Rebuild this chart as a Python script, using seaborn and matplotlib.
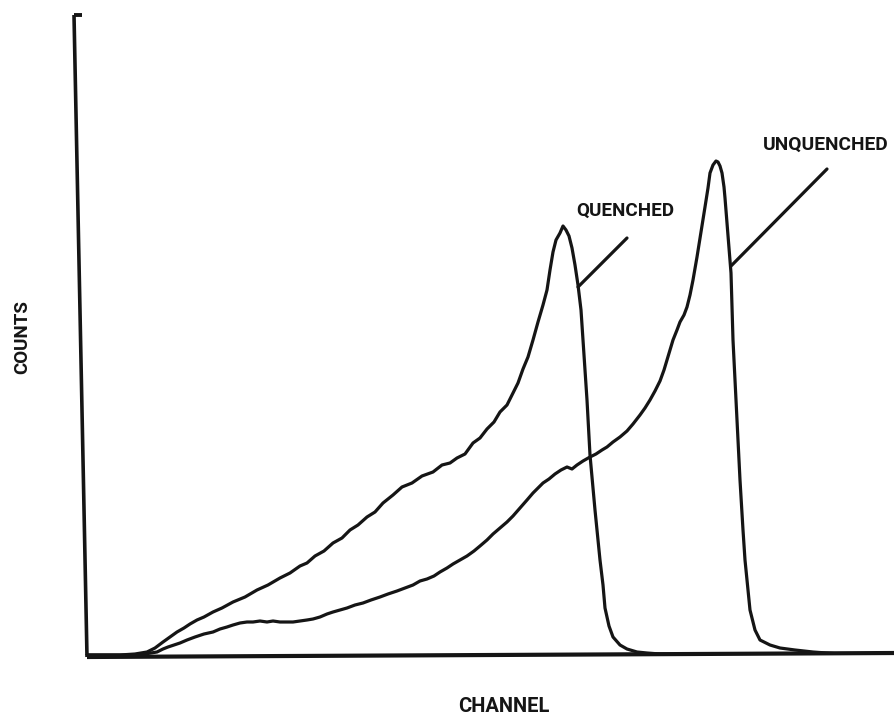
import matplotlib
matplotlib.use("Agg")
import matplotlib.pyplot as plt
from matplotlib.lines import Line2D
import pandas as pd
import seaborn as sns

sns.set_style("white")
plt.rcParams["font.family"] = ["Roboto", "DejaVu Sans"]

# Pulse-height spectra: channel number vs. counts
quenched_channel = [6, 39, 54, 66, 74, 82, 89, 96, 103, 109, 116, 123, 132, 141, 152,
                    164, 176, 187, 199, 209, 219, 226, 234, 243, 252, 261, 269, 277,
                    286, 294, 302, 312, 321, 331, 341, 352, 361, 369, 376, 384, 392,
                    399, 406, 413, 419, 426, 432, 437, 442, 447, 452, 457, 462, 466,
                    469, 472, 475, 479, 482, 485, 488, 491, 494, 497, 500, 502, 504,
                    506, 509, 514, 519, 522, 524, 528, 532, 539, 546, 556, 566, 579,
                    619, 814]
quenched_counts = [0, 0, 10, 30, 70, 130, 180, 230, 270, 310, 350, 380, 430, 470, 530,
                   580, 650, 700, 770, 820, 890, 920, 990, 1040, 1120, 1170, 1250, 1300,
                   1380, 1430, 1520, 1600, 1680, 1720, 1790, 1830, 1900, 1920, 1970,
                   2010, 2120, 2170, 2260, 2330, 2430, 2500, 2620, 2720, 2860, 2980,
                   3150, 3330, 3500, 3650, 3850, 4030, 4150, 4220, 4290, 4250, 4190,
                   4070, 3900, 3700, 3450, 3150, 2850, 2550, 2000, 1450, 950, 700, 470,
                   290, 180, 100, 60, 30, 20, 10, 0, 0]

unquenched_channel = [6, 49, 64, 76, 82, 87, 93, 99, 106, 114, 123, 132, 139, 146, 152,
                      159, 166, 172, 179, 186, 192, 199, 206, 212, 219, 226, 232, 239,
                      246, 252, 259, 266, 274, 282, 290, 299, 307, 316, 324, 332, 339,
                      346, 353, 359, 366, 372, 379, 386, 393, 399, 406, 412, 419, 426,
                      432, 439, 446, 452, 457, 462, 468, 474, 480, 486, 491, 496, 502,
                      509, 515, 521, 526, 532, 539, 546, 552, 559, 564, 569, 574, 579,
                      583, 586, 589, 592, 596, 599, 603, 606, 609, 612, 616, 620, 624,
                      627, 629, 632, 635, 637, 639, 641, 643, 644, 646, 648, 650, 652,
                      654, 656, 659, 662, 664, 667, 669, 674, 679, 689, 699, 714, 732,
                      759, 789, 814]
unquenched_counts = [0, 0, 10, 30, 60, 80, 100, 120, 150, 180, 210, 230, 260, 280, 300,
                     320, 330, 330, 340, 330, 340, 330, 330, 330, 340, 350, 360, 380,
                     410, 430, 450, 470, 500, 520, 550, 580, 610, 640, 670, 700, 740,
                     760, 790, 830, 870, 910, 950, 990, 1040, 1090, 1150, 1210, 1270,
                     1330, 1390, 1470, 1550, 1620, 1670, 1720, 1760, 1810, 1850, 1880,
                     1860, 1900, 1940, 1980, 2010, 2050, 2080, 2130, 2180, 2240, 2310,
                     2400, 2470, 2550, 2640, 2740, 2850, 2950, 3050, 3150, 3250, 3330,
                     3400, 3480, 3600, 3750, 3980, 4230, 4480, 4670, 4820, 4900, 4940,
                     4930, 4890, 4820, 4680, 4570, 4320, 4070, 3820, 3150, 2750, 2350,
                     1750, 1250, 950, 650, 450, 250, 150, 100, 70, 50, 30, 10, 0, 0]

series_labels = ["QUENCHED", "UNQUENCHED"]

df = pd.concat([
    pd.DataFrame({"channel": quenched_channel, "counts": quenched_counts,
                  "sample": series_labels[0]}),
    pd.DataFrame({"channel": unquenched_channel, "counts": unquenched_counts,
                  "sample": series_labels[1]}),
])

W, H = 895, 717
INK = "#151515"
fig = plt.figure(figsize=(W / 100, H / 100), dpi=100)
ax = fig.add_axes([81 / W, (H - 655) / H, (W - 81) / W, 640 / H])
ax.set_xlim(0, 814)
ax.set_ylim(0, 6400)
ax.axis("off")

sns.lineplot(data=df, x="channel", y="counts", hue="sample", units="sample",
             estimator=None, palette=[INK, INK], linewidth=2.3,
             legend=False, ax=ax)


# plotter-style axes, drawn in figure pixels
def fig_line(xs, ys, lw=2.6):
    fig.add_artist(Line2D([x / W for x in xs], [1 - y / H for y in ys],
                          transform=fig.transFigure, color=INK, lw=lw,
                          solid_capstyle="butt"))


fig_line([74, 87], [15, 657])
fig_line([74, 82], [15, 15], lw=2.8)
fig_line([87, 895], [657, 653], lw=3.0)

# leader lines and curve labels
ax.plot([497, 546], [3680, 4170], color=INK, lw=2.3)
ax.plot([650, 746], [3890, 4860], color=INK, lw=2.3)
label_kw = dict(ha="center", va="center", fontweight="bold", color=INK)
ax.text(544, 4440, series_labels[0], fontsize=13.6, **label_kw)
ax.text(745, 5100, series_labels[1], fontsize=13.8, **label_kw)

fig.text(504 / W, 1 - 707 / H, "CHANNEL", fontsize=14.5, **label_kw)
fig.text(22 / W, 1 - 337 / H, "COUNTS", fontsize=13.5, rotation=90, **label_kw)

fig.savefig("out.png", dpi=100, facecolor="white")
